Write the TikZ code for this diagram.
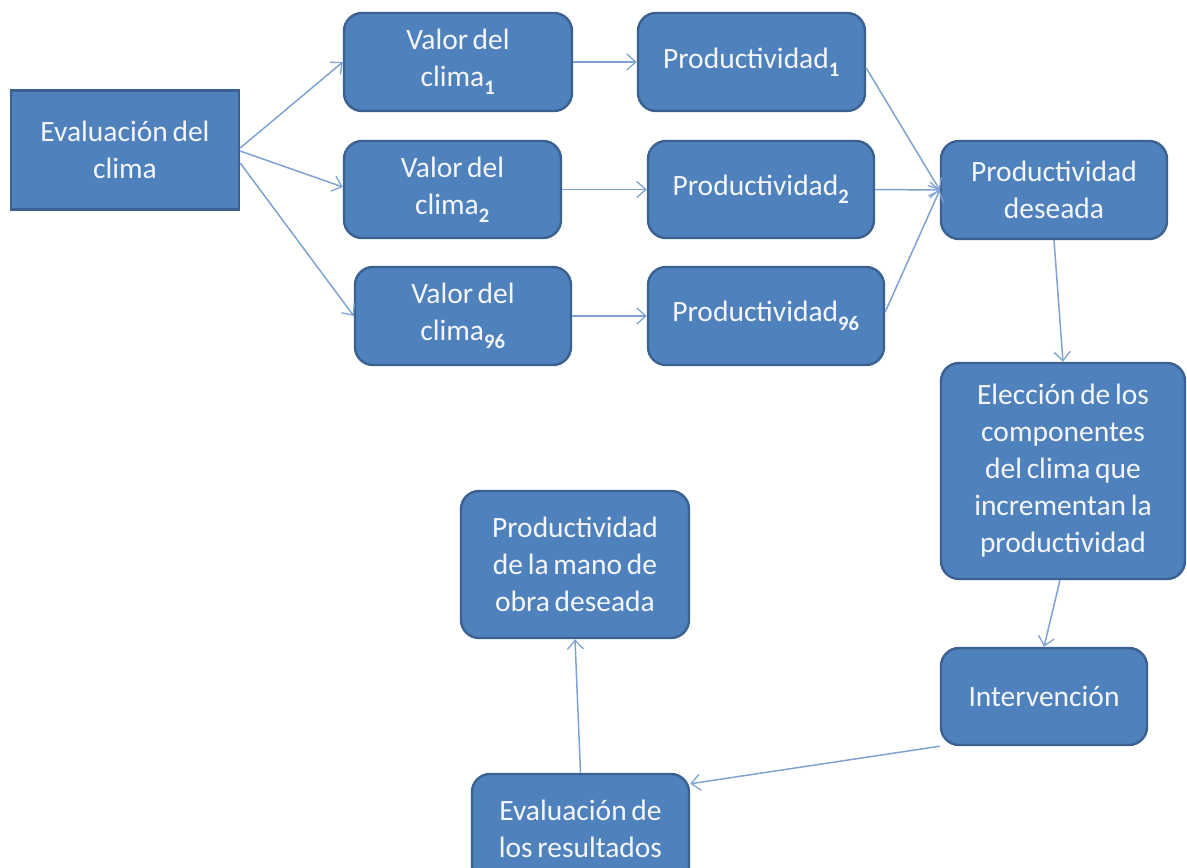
\documentclass[tikz,border=0pt]{standalone}
\usepackage{fontspec}
\setmainfont{Carlito}[WordSpace={0.7,0.5,0.3}]
\usetikzlibrary{arrows.meta}
\definecolor{boxfill}{HTML}{4F81BD}
\definecolor{boxline}{HTML}{3B6190}
\definecolor{arr}{HTML}{7FA3D0}
\definecolor{txt}{HTML}{F4F6FA}
\tikzset{
  base/.style={draw=boxline, line width=2.4pt, fill=boxfill, text=txt, align=center,
    font=\fontsize{29.5}{37}\selectfont, inner sep=0pt},
  rbox/.style={base, rounded corners=18pt},
  sbox/.style={base},
  conn/.style={draw=arr, line width=1.5pt, -{Straight Barb[length=9pt,width=16pt,line width=1.3pt]}},
}
\newcommand{\sub}[1]{\raisebox{-0.2ex}{\textsubscript{\bfseries #1}}}
\begin{document}
\begin{tikzpicture}[x=1pt,y=-1pt]
\useasboundingbox (0,0) rectangle (1187,868);
\node[sbox, minimum width=228pt, minimum height=119pt] (ev) at (125,150) {Evaluación del\\clima};
\node[rbox, minimum width=228pt, minimum height=98pt] (v1) at (458,62) {Valor del\\clima\sub{1}};
\node[rbox, minimum width=217pt, minimum height=97pt] (v2) at (452.5,189.5) {Valor del\\clima\sub{2}};
\node[rbox, minimum width=216pt, minimum height=98pt] (v3) at (463,316) {Valor del\\clima\sub{96}};
\node[rbox, minimum width=227pt, minimum height=98pt] (p1) at (751.5,62) {Productividad\sub{1}};
\node[rbox, minimum width=226pt, minimum height=97pt] (p2) at (761,189.5) {Productividad\sub{2}};
\node[rbox, minimum width=236pt, minimum height=98pt] (p3) at (766,316) {Productividad\sub{96}};
\node[rbox, minimum width=226pt, minimum height=98pt] (pd) at (1054,190) {Productividad\\deseada};
\node[rbox, minimum width=244pt, minimum height=216pt] (el) at (1063,471) {Elección de los\\componentes\\del clima que\\incrementan la\\productividad};
\node[rbox, minimum width=206pt, minimum height=97pt] (in) at (1044,696.5) {Intervención};
\node[rbox, minimum width=217pt, minimum height=110pt] (er) at (580.5,829) {Evaluación de\\los resultados};
\node[rbox, minimum width=228pt, minimum height=147pt] (pm) at (575,564.5) {Productividad\\de la mano de\\obra deseada};
\draw[conn] ([yshift=2pt]ev.east) -- (v1.west);
\draw[conn] ([yshift=-1pt]ev.east) -- ([yshift=2.5pt]v2.west);
\draw[conn] ([yshift=-13pt]ev.east) -- (v3.west);
\draw[conn] (v1.east) -- (p1.west);
\draw[conn] (v2.east) -- (p2.west);
\draw[conn] (v3.east) -- (p3.west);
\draw[conn] ([yshift=-6pt]p1.east) -- (pd.west);
\draw[conn] (p2.east) -- (pd.west);
\draw[conn] ([yshift=4pt]p3.east) -- (pd.west);
\draw[conn] (pd.south) -- (el.north);
\draw[conn] ([xshift=-3pt]el.south) -- (in.north);
\draw[conn] (in.south west) -- ([yshift=-11pt]er.north east);
\draw[conn] (er.north) -- (pm.south);
\end{tikzpicture}
\end{document}
